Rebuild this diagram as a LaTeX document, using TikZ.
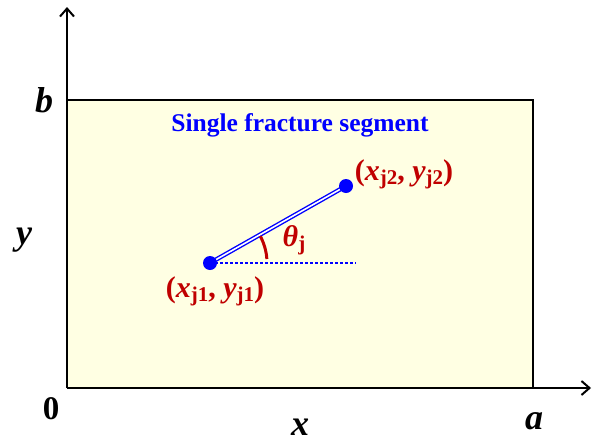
\documentclass[tikz,border=0pt]{standalone}
\usepackage{fontspec}
\setmainfont{Liberation Serif}
\usetikzlibrary{arrows.meta}
\definecolor{fillyel}{HTML}{FFFFE3}
\definecolor{dred}{HTML}{C00000}
\definecolor{myblue}{HTML}{0000FF}
\newcommand{\sbs}[1]{\raisebox{-0.3ex}{\fontsize{21}{22}\selectfont #1}}
\begin{document}
\begin{tikzpicture}[x=1pt,y=-1pt,
  axlab/.style={font=\fontsize{36}{38}\selectfont\bfseries\itshape, inner sep=0pt},
  ptlab/.style={font=\fontsize{30}{32}\selectfont\bfseries, text=dred, inner sep=0pt},
  dot/.style={circle, fill=myblue, minimum size=14pt, inner sep=0pt},
  axarrow/.style={line width=2pt,-{Straight Barb[length=8pt,width=14pt]}}]
\useasboundingbox (0,0) rectangle (594,442);
\fill[fillyel] (67,100) rectangle (533,388);
\draw[line width=2pt] (67,100) -- (533,100) -- (533,388);
\coordinate (O) at (67,388);
\coordinate (Ytop) at (67,7);
\coordinate (Xend) at (591,388);
\draw[axarrow] (O) -- (Ytop);
\draw[axarrow] (O) -- (Xend);
\node[axlab] (lb) at (44,100) {b};
\node[axlab] (ly) at (24,240) {y};
\node[font=\fontsize{33}{35}\selectfont\bfseries, inner sep=0pt] (l0) at (51,409) {0};
\node[axlab] (lx) at (300,427) {x};
\node[axlab] (la) at (534,421) {a};
\node[font=\fontsize{25.5}{27}\selectfont\bfseries, text=myblue, inner sep=0pt] (title) at (300,125) {Single fracture segment};
\coordinate (P1) at (210,263);
\coordinate (P2) at (346,186);
\coordinate (D) at (356,263);
\draw[myblue, line width=1.8pt, dash pattern=on 3pt off 2pt] (P1) -- (D);
\draw[myblue, double=white, double distance=1.6pt, line width=1.4pt] (P1) -- (P2);
\node[dot] (n1) at (P1) {};
\node[dot] (n2) at (P2) {};
\draw[dred, line width=3pt] ([shift={(-4:57)}]P1) arc[start angle=-4, end angle=-28, radius=57];
\node[ptlab] (th) at (294,240) {\textit{θ}\sbs{j}};
\node[ptlab] (l1) at (215,291) {(\textit{x}\sbs{j1}, \textit{y}\sbs{j1})};
\node[ptlab] (l2) at (404,174) {(\textit{x}\sbs{j2}, \textit{y}\sbs{j2})};
\end{tikzpicture}
\end{document}
